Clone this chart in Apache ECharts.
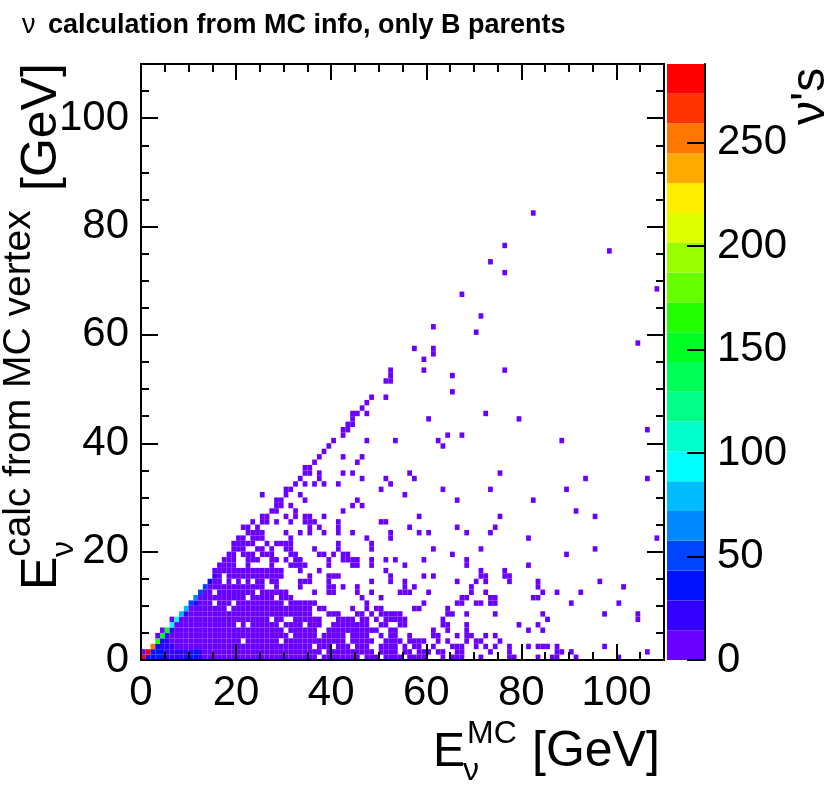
<!DOCTYPE html>
<html>
<head>
<meta charset="utf-8">
<script src="https://cdn.jsdelivr.net/npm/echarts@6/dist/echarts.min.js"></script>
<style>
  html, body { margin: 0; padding: 0; background: #fff; }
  #chart { width: 830px; height: 806px; }
</style>
</head>
<body>
<div id="chart"></div>
<script>
// 1 GeV bins on both axes, 0..110 GeV
var axisMax = 110;
var majorTicks = [0, 20, 40, 60, 80, 100];
var minorTicks = [0, 5, 10, 15, 20, 25, 30, 35, 40, 45, 50, 55, 60, 65, 70, 75, 80, 85, 90, 95, 100, 105, 110];

// colour bar: ROOT palette, 20 contours up to zMax
var zMax = 288;
var zTicks = [0, 50, 100, 150, 200, 250];
var palette = ['#6a00ff', '#3300ff', '#0011ff', '#0044ff', '#0088ff', '#00bbff', '#00ffff', '#00ffcc',
  '#00ff88', '#00ff55', '#00ff22', '#22ff00', '#66ff00', '#99ff00', '#ddff00', '#ffee00',
  '#ffaa00', '#ff7700', '#ff3300', '#ff0000'];

// filled bins, one string per E_calc bin (index = y bin), listing E_MC bins
var rowCells = [
  "0-36,38-45,47-49,51-54,56-59,63,65-67,71,77,78,83,86,87,91,100",            // 0
  "0-37,39-48,50-53,55,56,58-60,62,63,66,67,73,77,87,88,90,106",
  "2-35,37-39,41-43,45-47,50-53,55,57,58,61,65-67,70,72,74,77,81,83-85,87,97",
  "3-20,22-28,30-42,44-48,51-54,56-59,62,64,68,70,71,75",
  "3-30,32-36,38-42,44-47,50,52,53,56,61,62,66,68,69,72,74",
  "4-29,31-36,39-49,52,53,61,64,68,81,84",
  "6-19,21,23-28,30-33,35-37,40-47,50,51,54,55,63,64,68,79,83",
  "6-26,28,29,32-37,41-44,46,47,49,51-55,63,85,104",
  "8-35,39-41,45,46,48,50-54,64,65,68,74,84,97,104",
  "9-17,19-35,37,38,44,47,49,50,57,58,64",
  "10-14,16-18,20-29,31-36,47,59,66,67,70,71,73,74,90,100",                      // 10
  "11-21,23-27,29-31,46,50,67,68,73,74,82,83",
  "12-14,16-23,25-30,36,39,40,45,48,54-56,60,69,72,84,87,92",
  "13-25,28,33,39,40,42,45,55,57,69,83,101",
  "14-16,18,20,22,24,25,27,28,33-35,39,48,52,55,66,70,72,77,83,96",
  "15,16,18-29,35,39-41,52,59,61,71,72,76,77",
  "15-29,33,37,51,71,76",
  "16-19,22,27,31-34,39,44,45,48,55,68,81",
  "17-19,22-24,27,28,30,32,33,39,42-45,48,51,53,59,68",
  "18,19,21-23,25-27,31,32,37,38,40,42,43,65,89",
  "19-21,24,25,27,30,31,36,41,48,61,71,95",                                      // 20
  "19-23,26,28-31,41,48",
  "20,21,23-25,31,47,52,81,108",
  "22-25,30,33,35,38,41,44,52,58,60,68,73",
  "21,22,24,35,37,41,56,66,74",
  "23,25,26,28,31,34-36,41,50,51",
  "25,26,30,32,34,35,38,58,75,95",
  "27,28,32,42,91",
  "28,29,31,44,46",
  "28,29,34,45,66,82",
  "25,30,33,55",                                                                 // 30
  "30,31,50,63,73,89",
  "32,34,36,38,41,52",
  "33,37,46,51,57,93,106",
  "34,35,37,42,44,56,75",
  "34,35",
  "36,45",
  "37,42,46",
  "38",
  "39,63",
  "40,47,53,62,88",                                                              // 40
  "42,64,67",
  "42,43,106",
  "43,44",
  "44,60,79",
  "44,45,47,72",
  "46",
  "47",
  "48,51",
  "65",
  "",                                                                            // 50
  "51,52",
  "52,65",
  "52,59,76",
  "",
  "59",
  "61",
  "57,61",
  "104",
  "",
  "70",                                                                          // 60
  "61",
  "",
  "71",
  "",
  "",
  "",
  "67",
  "108",
  "",
  "",                                                                            // 70
  "76",
  "",
  "73",
  "",
  "98",
  "76",
  "",
  "",
  "",
  "",                                                                            // 80
  "",
  "82"
];

// typical entries per filled bin in the dense rows (all inside the lowest contour)
var rowCounts = [10, 9, 8, 7, 7, 6, 6, 5, 5, 5, 4, 4, 4, 3, 3, 3, 3, 2, 2, 2, 2, 2];

// bins above the lowest contour: [E_MC bin, E_calc bin, entries]
var hotCells = [
  [0, 0, 282], [1, 1, 276], [2, 2, 250], [3, 3, 165], [4, 4, 150], [5, 5, 146], [6, 6, 95], [7, 7, 92],
  [8, 8, 80], [9, 9, 76], [10, 10, 50], [11, 11, 62], [12, 12, 48], [13, 13, 45], [14, 14, 35], [15, 15, 25],
  [1, 0, 35], [2, 0, 40], [3, 0, 36], [4, 0, 30], [5, 0, 25], [6, 0, 22], [7, 0, 20], [8, 0, 24],
  [9, 0, 30], [10, 0, 32], [11, 0, 31], [12, 0, 20],
  [2, 1, 34], [3, 1, 32], [4, 1, 30], [5, 1, 22], [6, 1, 20], [7, 1, 18], [8, 1, 20], [9, 1, 22],
  [10, 1, 26], [11, 1, 30], [12, 1, 24],
  [3, 2, 30], [4, 2, 24], [5, 2, 18], [6, 2, 16], [4, 3, 32], [5, 3, 20], [5, 4, 20], [6, 5, 18],
  [9, 8, 18], [11, 10, 18]
];

// build the bin table
var counts = {};
rowCells.forEach(function (row, y) {
  if (!row) return;
  row.split(',').forEach(function (part) {
    var ab = part.split('-');
    var a = +ab[0], b = ab.length > 1 ? +ab[1] : a;
    for (var x = a; x <= b; x++) counts[x + '_' + y] = rowCounts[y] || 1;
  });
});
hotCells.forEach(function (c) { counts[c[0] + '_' + c[1]] = c[2]; });
var cells = Object.keys(counts).map(function (k) {
  var p = k.split('_');
  return [+p[0], +p[1], counts[k]];
});

var step = zMax / palette.length;
var pieces = palette.map(function (c, i) {
  return { gte: i * step, lt: (i + 1) * step, color: c };
});
pieces[pieces.length - 1].lt = zMax + 1;
var cbLevels = palette.map(function (c, i) { return [i * step, (i + 1) * step, i]; });

var FONT = '"Liberation Sans", Arial, Helvetica, sans-serif';

function txt(s, x, base, fs, weight) {
  return {
    type: 'text', x: x, y: base - 0.35 * fs,
    style: { text: s, fontSize: fs, fontFamily: FONT, fontWeight: weight || 'normal',
      fill: '#000', align: 'left', verticalAlign: 'middle' }
  };
}

function valueAxis(grid, pos, max, opts) {
  var ax = {
    type: 'value', gridIndex: grid, position: pos, min: 0, max: max, z: 5,
    interval: opts.interval,
    axisLine: { show: !!opts.line, onZero: false, lineStyle: { color: '#000', width: 2 } },
    axisTick: { show: true, inside: true, length: opts.tick, lineStyle: { color: '#000', width: 2 } },
    axisLabel: { show: false },
    splitLine: { show: false }
  };
  if (opts.ticks) ax.axisTick.customValues = opts.ticks;
  if (opts.labels) {
    ax.axisLabel = {
      show: true, customValues: opts.labels, margin: 12, color: '#000',
      fontSize: 42, fontFamily: FONT,
      formatter: function (v) { return opts.labels.indexOf(v) >= 0 ? String(v) : ''; }
    };
  }
  return ax;
}

var chart = echarts.init(document.getElementById('chart'), null, { renderer: 'canvas' });

chart.setOption({
  animation: false,
  backgroundColor: '#fff',
  grid: [
    { left: 141, top: 64, width: 523, height: 596 },
    { left: 141, top: 64, width: 523, height: 596 },
    { left: 667, top: 64, width: 38, height: 596 }
  ],
  xAxis: [
    valueAxis(0, 'bottom', axisMax, { interval: 5, tick: 8, line: true, ticks: minorTicks }),
    valueAxis(0, 'top', axisMax, { interval: 5, tick: 8, line: true, ticks: minorTicks }),
    valueAxis(1, 'bottom', axisMax, { interval: 20, tick: 16, ticks: majorTicks, labels: majorTicks }),
    valueAxis(1, 'top', axisMax, { interval: 20, tick: 16, ticks: majorTicks }),
    { type: 'value', gridIndex: 2, min: 0, max: 1, show: false }
  ],
  yAxis: [
    valueAxis(0, 'left', axisMax, { interval: 5, tick: 8, line: true, ticks: minorTicks }),
    valueAxis(0, 'right', axisMax, { interval: 5, tick: 8, line: true, ticks: minorTicks }),
    valueAxis(1, 'left', axisMax, { interval: 20, tick: 17, ticks: majorTicks, labels: majorTicks }),
    valueAxis(1, 'right', axisMax, { interval: 20, tick: 17, ticks: majorTicks }),
    valueAxis(2, 'right', zMax, { interval: 50, tick: 18, line: true, ticks: zTicks, labels: zTicks })
  ],
  visualMap: {
    type: 'piecewise', show: false, seriesIndex: 0, dimension: 2, pieces: pieces
  },
  series: [
    {
      type: 'custom', xAxisIndex: 0, yAxisIndex: 0, data: cells, z: 1,
      renderItem: function (params, api) {
        var x = api.value(0), y = api.value(1);
        var a = api.coord([x, y + 1]);
        var b = api.coord([x + 1, y]);
        return {
          type: 'rect',
          shape: { x: a[0], y: a[1], width: b[0] - a[0], height: b[1] - a[1] },
          style: { fill: api.visual('color') }
        };
      }
    },
    {
      type: 'custom', xAxisIndex: 4, yAxisIndex: 4, data: cbLevels, z: 1,
      renderItem: function (params, api) {
        var a = api.coord([0, api.value(1)]);
        var b = api.coord([1, api.value(0)]);
        return {
          type: 'rect',
          shape: { x: a[0], y: a[1], width: b[0] - a[0], height: b[1] - a[1] },
          style: { fill: palette[api.value(2)] }
        };
      }
    }
  ],
  graphic: [
    txt('ν', 22, 35, 27),
    txt('calculation from MC info, only B parents', 48, 35, 27, 'bold'),
    // x axis title
    txt('E', 433, 770, 48),
    txt('ν', 463, 782, 32),
    txt('MC', 467, 745, 32),
    txt('[GeV]', 532, 770, 50),
    // y axis title
    {
      type: 'group', x: 60, y: 590, rotation: Math.PI / 2,
      children: [
        txt('E', 0, 0, 50),
        txt('ν', 33, 15, 32),
        txt('calc from MC vertex', 33, -27, 39),
        txt('[GeV]', 399, 0, 50)
      ]
    },
    // colour bar title
    {
      type: 'group', x: 828, y: 125, rotation: Math.PI / 2,
      children: [txt("ν's", 0, 0, 48)]
    }
  ]
});
</script>
</body>
</html>
